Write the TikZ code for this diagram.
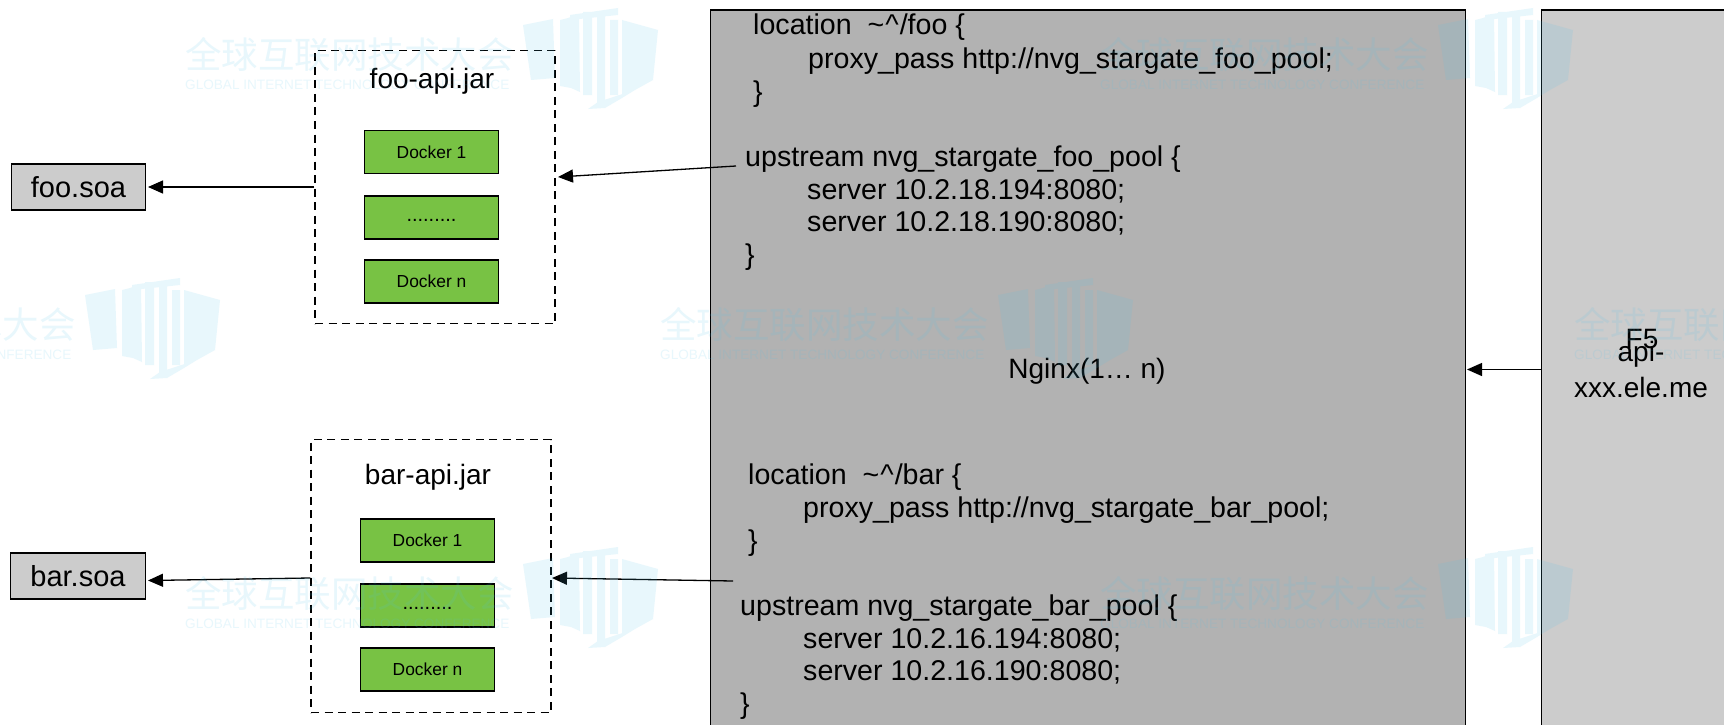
\documentclass[tikz,border=0pt]{standalone}
\usepackage{fontspec}
\setmainfont{Liberation Sans}
\newfontfamily\cjk{Noto Sans CJK SC}
\usetikzlibrary{arrows.meta}
\definecolor{dockgreen}{HTML}{78C244}
\definecolor{wm}{HTML}{4EC3EB}
\tikzset{x=1pt,y=-1pt,
 lbl/.style={inner sep=0pt,font=\fontsize{28}{28}\selectfont},
 codeline/.style={anchor=base west,inner sep=0pt,font=\fontsize{28.6}{28.6}\selectfont},
 graybox/.style={draw=black,line width=1.3pt,fill=black!20,inner sep=0pt},
 dock/.style={draw=black,line width=1.3pt,fill=dockgreen,minimum width=134.5pt,minimum height=43pt,inner sep=0pt,font=\fontsize{17.4}{17.4}\selectfont},
 dots/.style={font=\fontsize{20}{20}\selectfont,text height=8pt,text depth=0pt},
 jar/.style={draw=black,line width=1.3pt,dash pattern=on 8pt off 5.5pt,minimum width=240pt,inner sep=0pt},
 conn/.style={line width=1.3pt,-{Triangle[length=15pt,width=13pt]}},
}
\newcommand{\wmark}[2]{%
 \begin{scope}[shift={(#1,#2)},opacity=.13]
  \node[anchor=west,inner sep=0pt,text=wm,font=\cjk\fontsize{36.5}{36.5}\selectfont] at (0,-3) {全球互联网技术大会};
  \node[anchor=west,inner sep=0pt,text=wm,font=\fontsize{13.6}{13.6}\selectfont] at (0,27) {GLOBAL INTERNET TECHNOLOGY CONFERENCE};
  \fill[wm]
   (338,-33) -- (368,-39) -- (370,20) -- (346,22) -- cycle
   (375,-38) -- (383,-40) -- (394,-44) -- (395,34) -- (386,30) -- (375,28) -- cycle
   (398,-46) -- (407,-46) -- (407,37) -- (398,37) -- cycle
   (385,-43) -- (433,-50) -- (433,-43) -- (385,-38) -- cycle
   (412,-46) -- (420,-46) -- (420,45) -- (412,45) -- cycle
   (425,-38) -- (433,-38) -- (433,37) -- (425,37) -- cycle
   (437,-38) -- (473,-28) -- (468,22) -- (450,32) -- (437,37) -- cycle
   (413,44) -- (450,32) -- (437,40) -- (420,50) -- (403,51) -- cycle;
 \end{scope}}
\begin{document}
\begin{tikzpicture}
\useasboundingbox (0,0) rectangle (1724,725);
\fill[white] (0,0) rectangle (1724,725);
% big panels
\node[draw=black,line width=1.3pt,fill=black!30,anchor=north west,minimum width=754.5pt,minimum height=760pt,inner sep=0pt] (ng) at (710,9.5) {};
\node[draw=black,line width=1.3pt,fill=black!20,anchor=north west,minimum width=360pt,minimum height=760pt,inner sep=0pt] (f5) at (1541,9.5) {};
\node[lbl] (nglabel) at (1087,371) {Nginx(1… n)};
\node[lbl] (f5label) at (1642,339) {F5};
\node[lbl] (apilabel) at (1641,354) {api-};
\node[lbl] (xxxlabel) at (1641,387) {xxx.ele.me};
% code
\node[codeline] (c1) at (753,35) {location\ \ \textasciitilde\kern1pt\textasciicircum\kern1pt/foo \{};
\node[codeline] (c2) at (808,68) {proxy\_pass http://nvg\_stargate\_foo\_pool;};
\node[codeline] (c3) at (753,101) {\}};
\node[codeline] (c4) at (745,166) {upstream nvg\_stargate\_foo\_pool \{};
\node[codeline] (c5) at (807,199) {server 10.2.18.194:8080;};
\node[codeline] (c6) at (807,231) {server 10.2.18.190:8080;};
\node[codeline] (c7) at (745,264) {\}};
\node[codeline] (d1) at (748,484) {location\ \ \textasciitilde\kern1pt\textasciicircum\kern1pt/bar \{};
\node[codeline] (d2) at (803,517) {proxy\_pass http://nvg\_stargate\_bar\_pool;};
\node[codeline] (d3) at (748,550) {\}};
\node[codeline] (d4) at (740,615) {upstream nvg\_stargate\_bar\_pool \{};
\node[codeline] (d5) at (803,648) {server 10.2.16.194:8080;};
\node[codeline] (d6) at (803,680) {server 10.2.16.190:8080;};
\node[codeline] (d7) at (740,713) {\}};
% jars
\node[jar,minimum height=273pt] (fj) at (435,187) {};
\node[jar,minimum height=273pt] (bj) at (431,576) {};
\node[lbl] (ft) at (432,81) {foo-api.jar};
\node[lbl] (bt) at (428,477) {bar-api.jar};
\node[dock] (f1) at (431.5,152) {Docker 1};
\node[dock,dots] (f2) at (431.5,217.5) {.........};
\node[dock] (f3) at (431.5,281.5) {Docker n};
\node[dock] (b1) at (427.5,540.5) {Docker 1};
\node[dock,dots] (b2) at (427.5,605.5) {.........};
\node[dock] (b3) at (427.5,669.5) {Docker n};
% soa
\node[graybox,minimum width=134.5pt,minimum height=46pt,lbl,font=\fontsize{29}{29}\selectfont] (fs) at (78.5,187) {foo.soa};
\node[graybox,minimum width=134.5pt,minimum height=46pt,lbl,font=\fontsize{29}{29}\selectfont] (bs) at (78,576) {bar.soa};
% connectors
\coordinate (cfoo) at (736,166);
\coordinate (cbar) at (733,581);
\coordinate (fsin) at (148,187);
\coordinate (bsin) at (148,580.5);
\draw[conn] (fj.west |- fs.east) -- (fsin);
\draw[conn] (bj.west |- 0,578) -- (bsin);
\draw[conn] (cfoo) -- (558,177);
\draw[conn] (cbar) -- (552,578);
\draw[conn] (f5.west |- 0,369.5) -- (1467,369.5);
% watermark
\wmark{185}{58}
\wmark{1100}{58}
\wmark{-253}{328}
\wmark{660}{328}
\wmark{1574}{328}
\wmark{185}{597}
\wmark{1100}{597}
\end{tikzpicture}
\end{document}
